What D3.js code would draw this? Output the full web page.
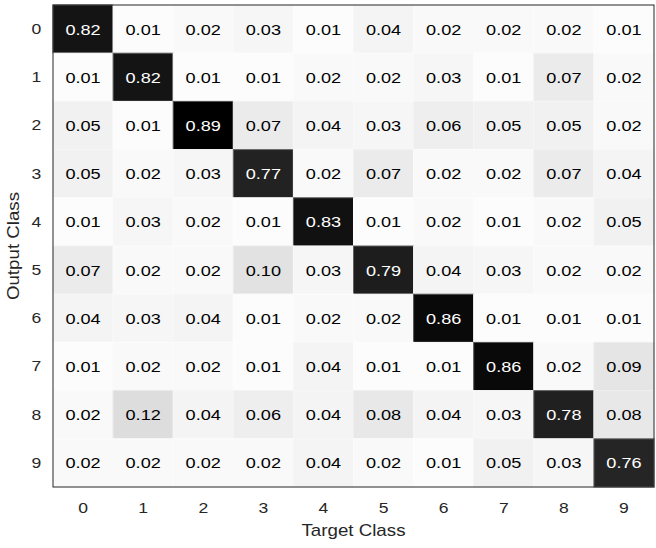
<!DOCTYPE html>
<html>
<head>
<meta charset="utf-8">
<script src="https://cdn.jsdelivr.net/npm/d3@7"></script>
<style>
  html, body { margin: 0; padding: 0; background: #fff; }
  svg text { font-family: "Liberation Sans", Arial, Helvetica, sans-serif; }
</style>
</head>
<body>
<svg id="chart" width="656" height="548"></svg>
<script>
// Class labels for both axes
const classes = ["0", "1", "2", "3", "4", "5", "6", "7", "8", "9"];

// Confusion matrix: one array per output class, columns are target classes
const row0 = [0.82, 0.01, 0.02, 0.03, 0.01, 0.04, 0.02, 0.02, 0.02, 0.01];
const row1 = [0.01, 0.82, 0.01, 0.01, 0.02, 0.02, 0.03, 0.01, 0.07, 0.02];
const row2 = [0.05, 0.01, 0.89, 0.07, 0.04, 0.03, 0.06, 0.05, 0.05, 0.02];
const row3 = [0.05, 0.02, 0.03, 0.77, 0.02, 0.07, 0.02, 0.02, 0.07, 0.04];
const row4 = [0.01, 0.03, 0.02, 0.01, 0.83, 0.01, 0.02, 0.01, 0.02, 0.05];
const row5 = [0.07, 0.02, 0.02, 0.10, 0.03, 0.79, 0.04, 0.03, 0.02, 0.02];
const row6 = [0.04, 0.03, 0.04, 0.01, 0.02, 0.02, 0.86, 0.01, 0.01, 0.01];
const row7 = [0.01, 0.02, 0.02, 0.01, 0.04, 0.01, 0.01, 0.86, 0.02, 0.09];
const row8 = [0.02, 0.12, 0.04, 0.06, 0.04, 0.08, 0.04, 0.03, 0.78, 0.08];
const row9 = [0.02, 0.02, 0.02, 0.02, 0.04, 0.02, 0.01, 0.05, 0.03, 0.76];
const matrix = [row0, row1, row2, row3, row4, row5, row6, row7, row8, row9];

const xAxisTitle = "Target Class";
const yAxisTitle = "Output Class";

const svg = d3.select("#chart");
const plotLeft = 53, plotRight = 654, plotTop = 5, plotBottom = 487;
const stretch = 1.17;   // horizontal widening applied to all labels

const x = d3.scaleBand().domain(classes).range([plotLeft, plotRight]);
const y = d3.scaleBand().domain(classes).range([plotTop, plotBottom]);

const maxVal = d3.max(matrix.flat());
const color = d3.scaleLinear().domain([0, maxVal]).range(["#ffffff", "#000000"]).clamp(true);

const cells = [];
matrix.forEach((row, r) => row.forEach((v, c) => cells.push({ r, c, v })));

const g = svg.append("g");
g.selectAll("rect.cell")
  .data(cells)
  .join("rect")
  .attr("class", "cell")
  .attr("x", d => x(classes[d.c]))
  .attr("y", d => y(classes[d.r]))
  .attr("width", x.bandwidth())
  .attr("height", y.bandwidth())
  .attr("fill", d => color(d.v))
  .attr("stroke", d => d3.interpolateRgb(color(d.v), "#ffffff")(0.3))
  .attr("stroke-width", 1);

g.selectAll("text.val")
  .data(cells)
  .join("text")
  .attr("class", "val")
  .attr("transform", d =>
    `translate(${x(classes[d.c]) + x.bandwidth() / 2},${y(classes[d.r]) + y.bandwidth() / 2}) scale(${stretch},1)`)
  .attr("text-anchor", "middle")
  .attr("dy", "0.36em")
  .attr("font-size", 15.5)
  .attr("fill", d => d.v > 0.5 ? "#ffffff" : "#000000")
  .text(d => d3.format(".2f")(d.v));

// Axes box
svg.append("rect")
  .attr("x", plotLeft).attr("y", plotTop)
  .attr("width", plotRight - plotLeft).attr("height", plotBottom - plotTop)
  .attr("fill", "none").attr("stroke", "#262626").attr("stroke-width", 1);

// Tick labels
const xAxis = svg.append("g")
  .attr("transform", `translate(0,${plotBottom})`)
  .call(d3.axisBottom(x).tickSize(0).tickPadding(15));
const yAxis = svg.append("g")
  .attr("transform", `translate(${plotLeft},0)`)
  .call(d3.axisLeft(y).tickSize(0).tickPadding(10));
[xAxis, yAxis].forEach(a => {
  a.select(".domain").remove();
  a.selectAll("text")
    .attr("font-size", 15)
    .attr("fill", "#262626")
    .attr("transform", `scale(${stretch},1)`)
    .attr("font-family", "'Liberation Sans', Arial, Helvetica, sans-serif");
});

// Axis titles
svg.append("text")
  .attr("transform", `translate(${(plotLeft + plotRight) / 2},536) scale(${stretch},1)`)
  .attr("text-anchor", "middle")
  .attr("font-size", 16)
  .attr("fill", "#262626")
  .text(xAxisTitle);

svg.append("text")
  .attr("transform", `translate(19,${(plotTop + plotBottom) / 2}) rotate(-90) scale(${stretch},1)`)
  .attr("text-anchor", "middle")
  .attr("font-size", 16)
  .attr("fill", "#262626")
  .text(yAxisTitle);
</script>
</body>
</html>
